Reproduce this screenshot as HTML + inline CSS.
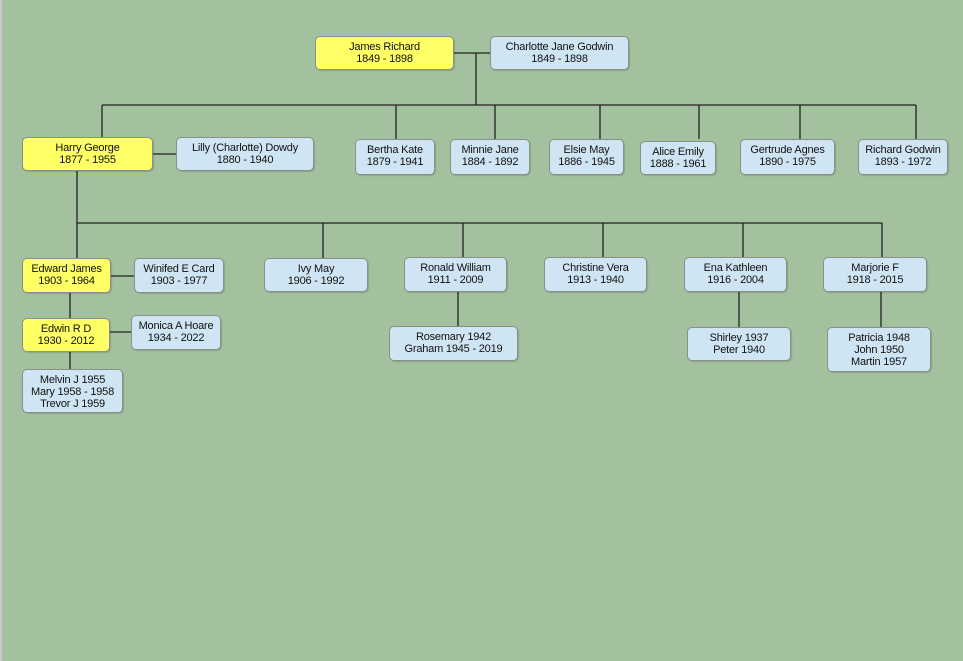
<!DOCTYPE html>
<html><head><meta charset="utf-8"><style>
html,body{margin:0;padding:0}
body{width:963px;height:661px;background:#a3c09f;position:relative;overflow:hidden;font-family:"Liberation Sans",sans-serif}
.b{position:absolute;box-sizing:border-box;border:1px solid #8a8f8a;border-radius:5px;background:#d0e5f3;font-size:11px;line-height:12px;text-align:center;padding-top:4px;color:#111;letter-spacing:-0.2px;box-shadow:1px 1px 1px rgba(0,0,0,0.15)}
.y{background:#ffff66}
svg{position:absolute;left:0;top:0}
</style></head><body>
<div style="position:absolute;left:0;top:0;width:2px;height:661px;background:#c8c8c8"></div>
<svg width="963" height="661"><g stroke="#222" stroke-width="1.3" fill="none">
<line x1="454" y1="53" x2="490" y2="53"/><line x1="476" y1="53" x2="476" y2="105"/>
<line x1="102" y1="105" x2="916" y2="105"/>
<line x1="102" y1="105" x2="102" y2="137"/>
<line x1="396" y1="105" x2="396" y2="139"/><line x1="495" y1="105" x2="495" y2="139"/>
<line x1="600" y1="105" x2="600" y2="139"/><line x1="699" y1="105" x2="699" y2="139"/>
<line x1="800" y1="105" x2="800" y2="139"/><line x1="916" y1="105" x2="916" y2="139"/>
<line x1="153" y1="154" x2="176" y2="154"/>
<line x1="77" y1="171" x2="77" y2="258"/>
<line x1="77" y1="223" x2="882" y2="223"/>
<line x1="323" y1="223" x2="323" y2="258"/><line x1="463" y1="223" x2="463" y2="258"/>
<line x1="603" y1="223" x2="603" y2="258"/><line x1="743" y1="223" x2="743" y2="258"/>
<line x1="882" y1="223" x2="882" y2="258"/>
<line x1="111" y1="276" x2="134" y2="276"/>
<line x1="70" y1="293" x2="70" y2="318"/>
<line x1="110" y1="332" x2="131" y2="332"/>
<line x1="70" y1="352" x2="70" y2="369"/>
<line x1="458" y1="292" x2="458" y2="326"/><line x1="739" y1="292" x2="739" y2="327"/>
<line x1="881" y1="292" x2="881" y2="327"/>
</g></svg>
<div class="b y" style="left:315px;top:36px;width:139px;height:34px">James Richard<br>1849 - 1898</div>
<div class="b" style="left:490px;top:36px;width:139px;height:34px">Charlotte Jane Godwin<br>1849 - 1898</div>
<div class="b y" style="left:22px;top:137px;width:131px;height:34px">Harry George<br>1877 - 1955</div>
<div class="b" style="left:176px;top:137px;width:138px;height:34px">Lilly (Charlotte) Dowdy<br>1880 - 1940</div>
<div class="b" style="left:355px;top:139px;width:80px;height:36px">Bertha Kate<br>1879 - 1941</div>
<div class="b" style="left:450px;top:139px;width:80px;height:36px">Minnie Jane<br>1884 - 1892</div>
<div class="b" style="left:549px;top:139px;width:75px;height:36px">Elsie May<br>1886 - 1945</div>
<div class="b" style="left:640px;top:141px;width:76px;height:34px">Alice Emily<br>1888 - 1961</div>
<div class="b" style="left:740px;top:139px;width:95px;height:36px">Gertrude Agnes<br>1890 - 1975</div>
<div class="b" style="left:858px;top:139px;width:90px;height:36px">Richard Godwin<br>1893 - 1972</div>
<div class="b y" style="left:22px;top:258px;width:89px;height:35px">Edward James<br>1903 - 1964</div>
<div class="b" style="left:134px;top:258px;width:90px;height:35px">Winifed E Card<br>1903 - 1977</div>
<div class="b" style="left:264px;top:258px;width:104px;height:34px">Ivy May<br>1906 - 1992</div>
<div class="b" style="left:404px;top:257px;width:103px;height:35px">Ronald William<br>1911 - 2009</div>
<div class="b" style="left:544px;top:257px;width:103px;height:35px">Christine Vera<br>1913 - 1940</div>
<div class="b" style="left:684px;top:257px;width:103px;height:35px">Ena Kathleen<br>1916 - 2004</div>
<div class="b" style="left:823px;top:257px;width:104px;height:35px">Marjorie F<br>1918 - 2015</div>
<div class="b y" style="left:22px;top:318px;width:88px;height:34px">Edwin R D<br>1930 - 2012</div>
<div class="b" style="left:131px;top:315px;width:90px;height:35px">Monica A Hoare<br>1934 - 2022</div>
<div class="b" style="left:22px;top:369px;width:101px;height:44px">Melvin J 1955<br>Mary 1958 - 1958<br>Trevor J 1959</div>
<div class="b" style="left:389px;top:326px;width:129px;height:35px">Rosemary 1942<br>Graham 1945 - 2019</div>
<div class="b" style="left:687px;top:327px;width:104px;height:34px">Shirley 1937<br>Peter 1940</div>
<div class="b" style="left:827px;top:327px;width:104px;height:45px">Patricia 1948<br>John 1950<br>Martin 1957</div>
</body></html>
